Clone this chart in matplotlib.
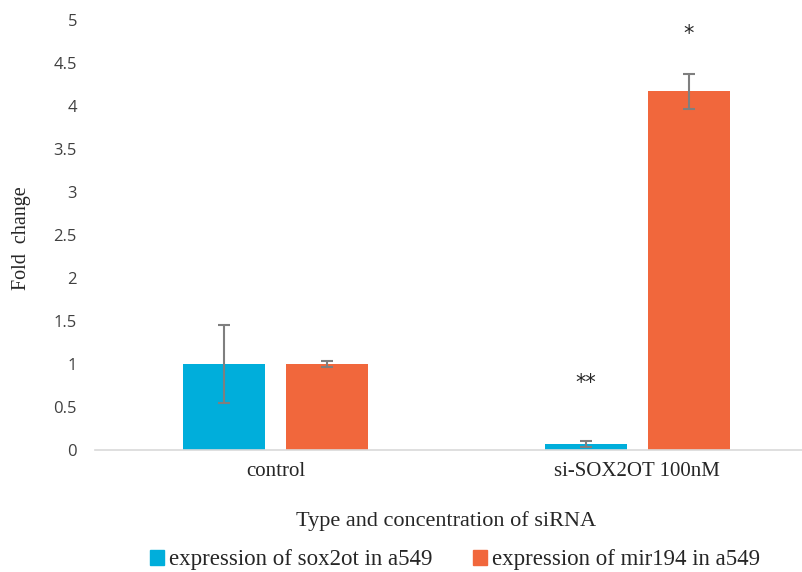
import matplotlib
matplotlib.use("Agg")
import matplotlib.pyplot as plt
import numpy as np
from matplotlib.patches import Patch

categories = ["control", "si-SOX2OT 100nM"]
series_names = ["expression of sox2ot in a549", "expression of mir194 in a549"]
sox2ot = [1.0, 0.07]
sox2ot_err = [0.455, 0.035]
mir194 = [1.0, 4.17]
mir194_err = [0.03, 0.2]
yticks = [0, 0.5, 1, 1.5, 2, 2.5, 3, 3.5, 4, 4.5, 5]
ytick_labels = ["0", "0.5", "1", "1.5", "2", "2.5", "3", "3.5", "4", "4.5", "5"]
# significance marks: (category index, series index, text, y position)
marks = [(1, 0, "**", 0.78), (1, 1, "*", 4.84)]

blue = "#00AEDB"
orange = "#F1673C"
err_color = "#7F7F7F"

fig = plt.figure(figsize=(8.03, 5.72), dpi=100)
ax = fig.add_axes([95 / 803, 1 - 450 / 572, 723 / 803, 430 / 572])

x = np.arange(len(categories))
w = 0.227
off = 0.1425
ax.bar(x - off, sox2ot, w, color=blue, yerr=sox2ot_err,
       error_kw=dict(ecolor=err_color, elinewidth=1.5, capsize=4, capthick=1.5))
ax.bar(x + off, mir194, w, color=orange, yerr=mir194_err,
       error_kw=dict(ecolor=err_color, elinewidth=1.5, capsize=4, capthick=1.5))

for ci, si, txt, yv in marks:
    xp = x[ci] + (off if si == 1 else -off)
    ax.text(xp, yv, txt, ha="center", va="center", fontsize=15,
            family="DejaVu Sans", color="#262626")

ax.set_xlim(-0.5, 1.5)
ax.set_ylim(0, 5)
ax.set_yticks(yticks)
ax.set_yticklabels(ytick_labels, fontsize=12, color="#404040", family="Open Sans")
ax.set_xticks(x)
ax.set_xticklabels(categories, fontsize=15, family="Liberation Serif", color="#262626")
ax.tick_params(axis="both", length=0)
ax.tick_params(axis="y", pad=13)
ax.tick_params(axis="x", pad=9)
for s in ["top", "right", "left"]:
    ax.spines[s].set_visible(False)
ax.spines["bottom"].set_color("#D9D9D9")
ax.spines["bottom"].set_linewidth(1.2)

fig.text(22 / 803, 1 - 238 / 572, "Fold  change", rotation=90, ha="center", va="center",
         fontsize=14.5, family="Liberation Serif", color="#262626")
fig.text(446 / 803, 1 - 521 / 572, "Type and concentration of siRNA", ha="center", va="center",
         fontsize=16, family="Liberation Serif", color="#262626")

handles = [Patch(color=blue), Patch(color=orange)]
fig.legend(handles, series_names, loc="center", bbox_to_anchor=(455 / 803, 1 - 560 / 572),
           ncol=2, frameon=False, prop=dict(family="Liberation Serif", size=16.5),
           handlelength=0.6, handleheight=0.6, handletextpad=0.2, columnspacing=1.8,
           labelcolor="#262626")

fig.savefig("out.png", dpi=100)
